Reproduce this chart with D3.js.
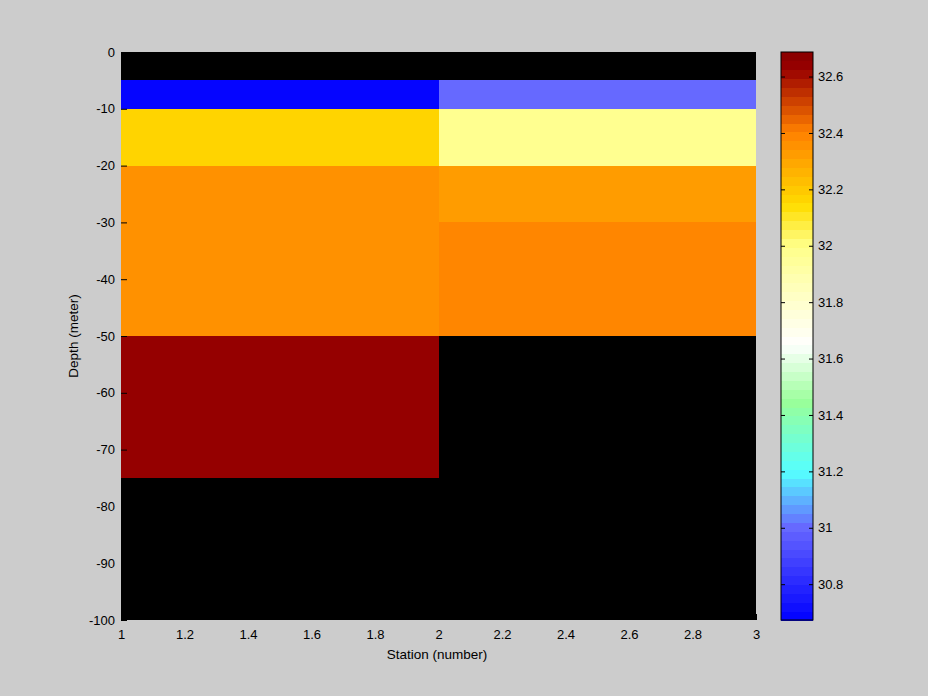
<!DOCTYPE html>
<html><head><meta charset="utf-8">
<script src="https://cdn.jsdelivr.net/npm/d3@7"></script>
<style>body{margin:0;background:#cccccc;} svg{display:block;}</style>
</head><body>
<script>
// Data
const stationEdges = [1, 2, 3];
const depthEdges = [0, -5, -10, -20, -30, -50, -75, -100];
const station1 = [null, 30.68, 32.18, 32.36, 32.36, 32.63, null];
const station2 = [null, 31.0, 31.98, 32.32, 32.40, null, null];
const xTicks = [1, 1.2, 1.4, 1.6, 1.8, 2, 2.2, 2.4, 2.6, 2.8, 3];
const yTicks = [0, -10, -20, -30, -40, -50, -60, -70, -80, -90, -100];
const cTicks = [30.8, 31, 31.2, 31.4, 31.6, 31.8, 32, 32.2, 32.4, 32.6];
const cMin = 30.673, cMax = 32.687;
const cmapStops = [0, 0.162, 0.262, 0.385, 0.485, 0.66, 0.73, 0.86, 0.97, 1];
const cmapColors = ["#0000ff", "#6666ff", "#55ffff", "#99ff99", "#ffffff", "#ffff88", "#ffdd00", "#ff8000", "#990000", "#880000"];
const nLevels = 64;

const W = 928, H = 696;
const svg = d3.select("body").append("svg").attr("width", W).attr("height", H);
svg.append("rect").attr("width", W).attr("height", H).attr("fill", "#cccccc");

const m = {l: 121, r: 756, t: 52, b: 620};
const x = d3.scaleLinear().domain([1, 3]).range([m.l, m.r]);
const y = d3.scaleLinear().domain([0, -100]).range([m.t, m.b]);

const interp = d3.scaleLinear().domain(cmapStops).range(cmapColors).interpolate(d3.interpolateRgb).clamp(true);
function colorOf(v) {
  let t = (v - cMin) / (cMax - cMin);
  let k = Math.min(nLevels - 1, Math.max(0, Math.floor(t * nLevels)));
  return interp((k + 0.5) / nLevels);
}

// axes background (NaN -> black)
svg.append("rect").attr("x", m.l).attr("y", m.t).attr("width", m.r - m.l).attr("height", m.b - m.t).attr("fill", "#000");

const cells = [];
[station1, station2].forEach((vals, si) => {
  vals.forEach((v, di) => {
    if (v !== null) cells.push({x0: stationEdges[si], x1: stationEdges[si + 1], y0: depthEdges[di], y1: depthEdges[di + 1], v});
  });
});
svg.append("g").selectAll("rect").data(cells).join("rect")
  .attr("x", d => x(d.x0)).attr("y", d => y(d.y0))
  .attr("width", d => x(d.x1) - x(d.x0)).attr("height", d => y(d.y1) - y(d.y0))
  .attr("fill", d => colorOf(d.v)).attr("shape-rendering", "crispEdges");

const font = "'Liberation Sans', Arial, sans-serif";
const fs = 13;
const xAxis = d3.axisBottom(x).tickValues(xTicks).tickSize(-6).tickPadding(10).tickFormat(d3.format("~g"));
const gx = svg.append("g").attr("transform", `translate(0,${m.b})`).call(xAxis);
const yAxis = d3.axisLeft(y).tickValues(yTicks).tickSize(-6).tickPadding(6).tickFormat(d => d3.format("~g")(d).replace("−", "-"));
const gy = svg.append("g").attr("transform", `translate(${m.l},0)`).call(yAxis);
[gx, gy].forEach(g => {
  g.select(".domain").remove();
  g.selectAll("line").attr("stroke", "#000");
  g.selectAll("text").attr("font-family", font).attr("font-size", fs).attr("fill", "#000");
});

svg.append("text").attr("x", 437).attr("y", 659).attr("text-anchor", "middle")
  .attr("font-family", font).attr("font-size", 13.5).text("Station (number)");
svg.append("text").attr("transform", `translate(78,${(m.t + m.b) / 2}) rotate(-90)`).attr("text-anchor", "middle")
  .attr("font-family", font).attr("font-size", 13.5).text("Depth (meter)");

// colorbar
const cb = {l: 781, r: 813};
const cy = d3.scaleLinear().domain([cMin, cMax]).range([m.b, m.t]);
const levels = d3.range(nLevels);
svg.append("g").selectAll("rect").data(levels).join("rect")
  .attr("x", cb.l).attr("width", cb.r - cb.l)
  .attr("y", k => cy(cMin + (k + 1) * (cMax - cMin) / nLevels))
  .attr("height", k => cy(cMin + k * (cMax - cMin) / nLevels) - cy(cMin + (k + 1) * (cMax - cMin) / nLevels) + 0.5)
  .attr("fill", k => interp((k + 0.5) / nLevels)).attr("shape-rendering", "crispEdges");
svg.append("rect").attr("x", cb.l).attr("y", m.t).attr("width", cb.r - cb.l).attr("height", m.b - m.t)
  .attr("fill", "none").attr("stroke", "#000").attr("stroke-width", 1);
const cAxis = d3.axisRight(cy).tickValues(cTicks).tickSize(-4).tickPadding(5).tickFormat(d3.format("~g"));
const gc = svg.append("g").attr("transform", `translate(${cb.r},0)`).call(cAxis);
gc.select(".domain").remove();
gc.selectAll("line").attr("stroke", "#000");
gc.selectAll("text").attr("font-family", font).attr("font-size", fs).attr("fill", "#000");
const gc2 = svg.append("g").attr("transform", `translate(${cb.l},0)`).call(d3.axisLeft(cy).tickValues(cTicks).tickSize(-4).tickFormat(""));
gc2.select(".domain").remove();
gc2.selectAll("line").attr("stroke", "#000");
</script>
</body></html>
